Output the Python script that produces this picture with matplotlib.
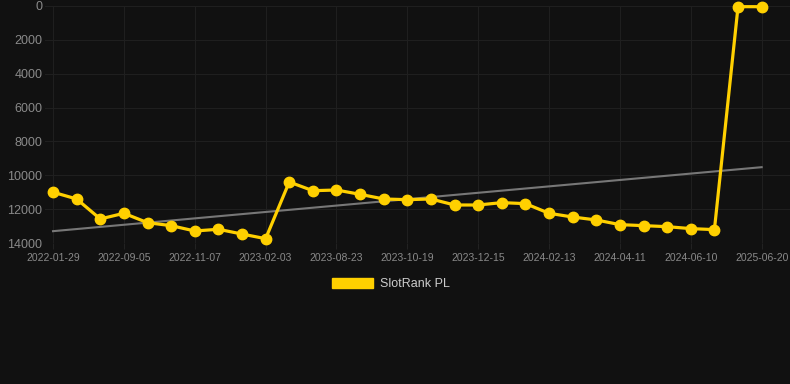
import matplotlib
matplotlib.use("Agg")
import matplotlib.pyplot as plt
import numpy as np
from matplotlib.patches import Patch

dates = ["2022-01-29", "2022-03-20", "2022-05-10", "2022-09-05", "2022-09-25", "2022-10-15",
         "2022-11-07", "2022-12-01", "2023-01-10", "2023-02-03", "2023-04-01", "2023-06-10",
         "2023-08-23", "2023-09-10", "2023-10-01", "2023-10-19", "2023-11-05", "2023-11-25",
         "2023-12-15", "2024-01-05", "2024-01-25", "2024-02-13", "2024-03-01", "2024-03-20",
         "2024-04-11", "2024-05-01", "2024-05-20", "2024-06-10", "2024-07-01", "2025-06-01",
         "2025-06-20"]
rank = [11000, 11400, 12580, 12245, 12800, 12975, 13290, 13190, 13470, 13745,
        10395, 10910, 10870, 11125, 11400, 11440, 11400, 11755, 11755, 11615,
        11675, 12245, 12465, 12640, 12915, 12975, 13035, 13150, 13210, 40, 40]
series_label = "SlotRank PL"
yticks = [0, 2000, 4000, 6000, 8000, 10000, 12000, 14000]

plt.rcParams['font.family'] = ['Liberation Sans', 'DejaVu Sans']
bg = "#111111"
fig = plt.figure(figsize=(7.9, 3.84), dpi=100, facecolor=bg)
ax = fig.add_axes([45/790, 1-243/384, 745/790, 237/384], facecolor=bg)

x = np.arange(len(rank))
coef = np.polyfit(x, rank, 1)
trend = np.polyval(coef, x)
ax.plot(x, trend, color="#777777", lw=1.5, zorder=2)
ax.plot(x, rank, color="#FFD000", lw=2.3, marker="o", markersize=7.5,
        markerfacecolor="#FFD000", markeredgecolor="#FFD000", zorder=3, clip_on=False)

ax.set_ylim(14000, 0)
ax.set_xlim(-0.34, 31.2)
ax.set_yticks(yticks)
ax.set_yticklabels([str(v) for v in yticks])
tick_idx = list(range(0, len(dates), 3))
ax.set_xticks(tick_idx)
ax.set_xticklabels([dates[i] for i in tick_idx])
ax.tick_params(axis='y', colors="#8a8a8a", labelsize=9, length=0, pad=2)
ax.tick_params(axis='x', colors="#222222", labelcolor="#8a8a8a", labelsize=7.5, length=4, pad=3)
ax.grid(True, color="#1f1f1f", lw=0.8)
for s in ax.spines.values():
    s.set_visible(False)

fig.legend(handles=[Patch(facecolor="#FFD000", edgecolor="#FFD000")], labels=[series_label],
           loc="center", bbox_to_anchor=(391/790, 1-284/384), frameon=False,
           fontsize=9, labelcolor="#cccccc", handlelength=3.3, handleheight=0.9,
           handletextpad=0.6)

fig.savefig("out.png", dpi=100, facecolor=bg)
